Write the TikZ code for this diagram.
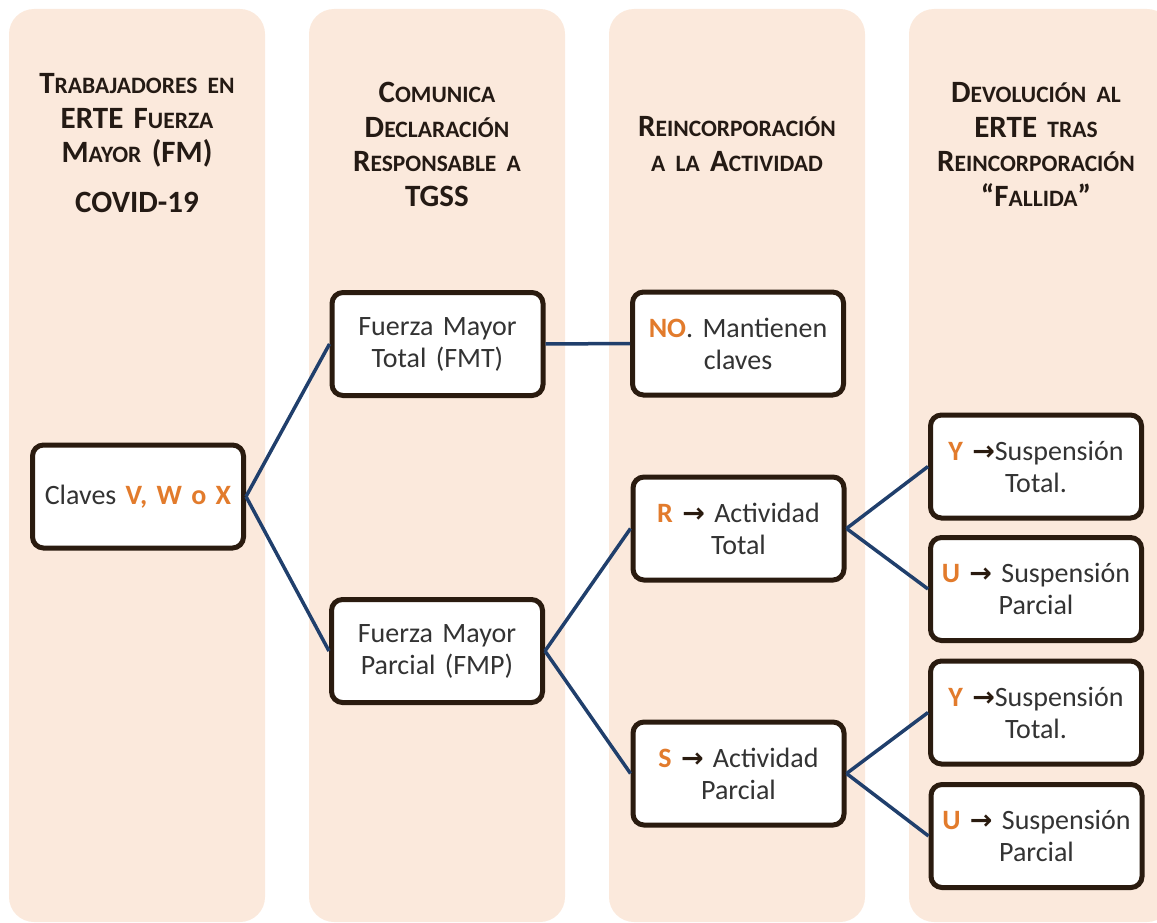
\documentclass[tikz,border=0pt]{standalone}
\usepackage{fontspec}
\setmainfont{Carlito}
\newfontfamily\arrowfont{DejaVu Sans}
\definecolor{peach}{HTML}{FBE9DC}
\definecolor{orng}{HTML}{E27B2C}
\definecolor{bdr}{HTML}{2A1B0F}
\definecolor{navy}{HTML}{203F6C}
\definecolor{txt}{HTML}{333333}
\definecolor{hdrc}{HTML}{241A14}
\newcommand{\sm}[1]{{\fontsize{23.5}{36}\selectfont #1}}
\newcommand{\OR}[1]{\textbf{\textcolor{orng}{#1}}}
\newcommand{\arr}{{\arrowfont\bfseries\fontsize{27}{30}\selectfont\textcolor{bdr}{→}}}
\tikzset{
  colbg/.style={fill=peach, rounded corners=25pt},
  box/.style={draw=bdr, line width=5pt, rounded corners=11pt, fill=white,
    minimum width=211pt, minimum height=103pt, text width=205pt, align=center,
    font=\fontsize{28}{32}\selectfont, text=txt, inner sep=0pt},
  hdr/.style={text width=260pt, align=center, font=\bfseries\fontsize{31}{34.5}\selectfont,
    text=hdrc, anchor=base, inner sep=0pt},
  link/.style={draw=navy, line width=3.5pt}
}
\begin{document}
\begin{tikzpicture}[x=1pt,y=-1pt]
\useasboundingbox (0,0) rectangle (1157,923);
\clip (0,0) rectangle (1157,923);
% columns
\fill[colbg] (9,9) rectangle (265,922);
\fill[colbg] (309,9) rectangle (565,922);
\fill[colbg] (609,9) rectangle (865,922);
\fill[colbg] (909,9) rectangle (1172,922);
% headers
\node[hdr] (h1) at (137,94) {T\sm{RABAJADORES EN}\\ ERTE F\sm{UERZA}\\ M\sm{AYOR} (FM)\\[15pt] COVID-19};
\node[hdr] (h2) at (437,103) {C\sm{OMUNICA}\\ D\sm{ECLARACIÓN}\\ R\sm{ESPONSABLE A}\\ TGSS};
\node[hdr] (h3) at (737,137) {R\sm{EINCORPORACIÓN}\\ \sm{A LA} A\sm{CTIVIDAD}};
\node[hdr] (h4) at (1036,103) {D\sm{EVOLUCIÓN AL}\\ ERTE \sm{TRAS}\\ R\sm{EINCORPORACIÓN}\\ “F\sm{ALLIDA}”};
% boxes
\node[box] (cl) at (138,496.5) {Claves \OR{V, W o X}};
\node[box] (fmt) at (437.5,344) {Fuerza Mayor\\ Total (FMT)};
\node[box] (fmp) at (437,651) {Fuerza Mayor\\ Parcial (FMP)};
\node[box] (no) at (738,343.5) {\OR{NO}. Mantienen\\ claves};
\node[box] (r) at (738.5,528.5) {\OR{R} \arr{} Actividad\\ Total};
\node[box] (s) at (738.5,773.5) {\OR{S} \arr{} Actividad\\ Parcial};
\node[box] (y1) at (1036,466.5) {\OR{Y} \arr{}Suspensión\\ Total.};
\node[box] (u1) at (1036,589) {\OR{U} \arr{} Suspensión\\ Parcial};
\node[box] (y2) at (1036,712.5) {\OR{Y} \arr{}Suspensión\\ Total.};
\node[box] (u2) at (1036.5,836) {\OR{U} \arr{} Suspensión\\ Parcial};
% connectors
\draw[link] (cl.east) -- (fmt.west);
\draw[link] (cl.east) -- (fmp.west);
\draw[link] (fmt.east) -- (no.west);
\draw[link] (fmp.east) -- (r.west);
\draw[link] (fmp.east) -- (s.west);
\draw[link] (r.east) -- (y1.west);
\draw[link] (r.east) -- (u1.west);
\draw[link] (s.east) -- (y2.west);
\draw[link] (s.east) -- (u2.west);
\end{tikzpicture}
\end{document}
